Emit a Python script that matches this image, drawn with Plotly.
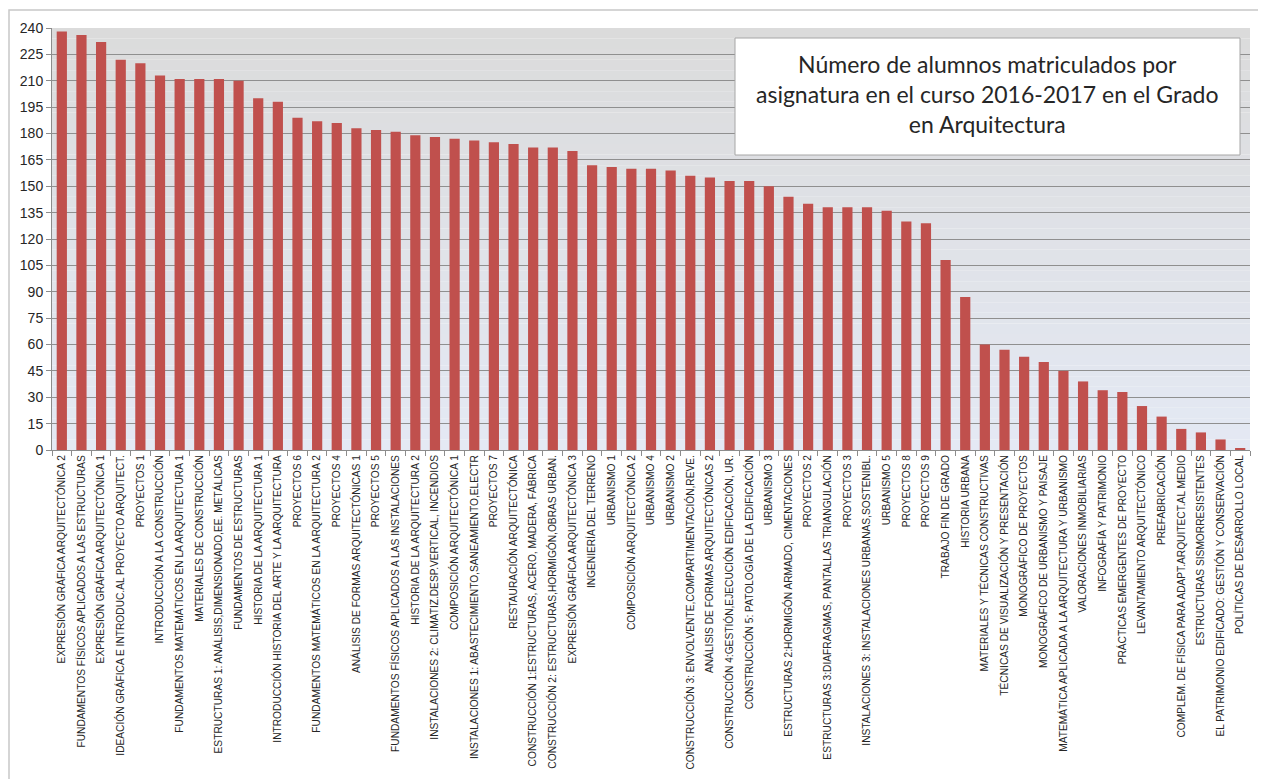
import plotly.graph_objects as go

subjects = [
    "EXPRESIÓN GRÁFICA ARQUITECTÓNICA 2",
    "FUNDAMENTOS FÍSICOS APLICADOS A LAS ESTRUCTURAS",
    "EXPRESIÓN GRÁFICA ARQUITECTÓNICA 1",
    "IDEACIÓN GRÁFICA E INTRODUC.AL PROYECTO ARQUITECT.",
    "PROYECTOS 1",
    "INTRODUCCIÓN A LA CONSTRUCCIÓN",
    "FUNDAMENTOS MATEMÁTICOS EN LA ARQUITECTURA 1",
    "MATERIALES DE CONSTRUCCIÓN",
    "ESTRUCTURAS 1: ANÁLISIS,DIMENSIONADO,EE. METÁLICAS",
    "FUNDAMENTOS DE ESTRUCTURAS",
    "HISTORIA DE LA ARQUITECTURA 1",
    "INTRODUCCIÓN HISTORIA DEL ARTE Y LA ARQUITECTURA",
    "PROYECTOS 6",
    "FUNDAMENTOS MATEMÁTICOS EN LA ARQUITECTURA 2",
    "PROYECTOS 4",
    "ANÁLISIS DE FORMAS ARQUITECTÓNICAS 1",
    "PROYECTOS 5",
    "FUNDAMENTOS FÍSICOS APLICADOS A LAS INSTALACIONES",
    "HISTORIA DE LA ARQUITECTURA 2",
    "INSTALACIONES 2: CLIMATIZ.DESP.VERTICAL, INCENDIOS",
    "COMPOSICIÓN ARQUITECTÓNICA 1",
    "INSTALACIONES 1: ABASTECIMIENTO,SANEAMIENTO,ELECTR",
    "PROYECTOS 7",
    "RESTAURACIÓN ARQUITECTÓNICA",
    "CONSTRUCCIÓN 1:ESTRUCTURAS, ACERO, MADERA, FÁBRICA",
    "CONSTRUCCIÓN 2: ESTRUCTURAS,HORMIGÓN,OBRAS URBAN.",
    "EXPRESIÓN GRÁFICA ARQUITECTÓNICA 3",
    "INGENIERÍA DEL TERRENO",
    "URBANISMO 1",
    "COMPOSICIÓN ARQUITECTÓNICA 2",
    "URBANISMO 4",
    "URBANISMO 2",
    "CONSTRUCCIÓN 3: ENVOLVENTE,COMPARTIMENTACIÓN,REVE.",
    "ANÁLISIS DE FORMAS ARQUITECTÓNICAS 2",
    "CONSTRUCCIÓN 4:GESTIÓN,EJECUCIÓN EDIFICACIÓN, UR.",
    "CONSTRUCCIÓN 5: PATOLOGÍA DE LA EDIFICACIÓN",
    "URBANISMO 3",
    "ESTRUCTURAS 2:HORMIGÓN ARMADO, CIMENTACIONES",
    "PROYECTOS 2",
    "ESTRUCTURAS 3:DIAFRAGMAS, PANTALLAS TRIANGULACIÓN",
    "PROYECTOS 3",
    "INSTALACIONES 3: INSTALACIONES URBANAS,SOSTENIBL.",
    "URBANISMO 5",
    "PROYECTOS 8",
    "PROYECTOS 9",
    "TRABAJO FIN DE GRADO",
    "HISTORIA URBANA",
    "MATERIALES Y TÉCNICAS CONSTRUCTIVAS",
    "TÉCNICAS DE VISUALIZACIÓN Y PRESENTACIÓN",
    "MONOGRÁFICO DE PROYECTOS",
    "MONOGRÁFICO DE URBANISMO Y PAISAJE",
    "MATEMÁTICA APLICADA A LA ARQUITECTURA Y URBANISMO",
    "VALORACIONES INMOBILIARIAS",
    "INFOGRAFÍA Y PATRIMONIO",
    "PRÁCTICAS EMERGENTES DE PROYECTO",
    "LEVANTAMIENTO ARQUITECTÓNICO",
    "PREFABRICACIÓN",
    "COMPLEM. DE FÍSICA PARA ADAPT.ARQUITECT.AL MEDIO",
    "ESTRUCTURAS SISMORRESISTENTES",
    "EL PATRIMONIO EDIFICADO: GESTIÓN Y CONSERVACIÓN",
    "POLÍTICAS DE DESARROLLO LOCAL",
]

students = [238, 236, 232, 222, 220, 213, 211, 211, 211, 210,
            200, 198, 189, 187, 186, 183, 182, 181, 179, 178,
            177, 176, 175, 174, 172, 172, 170, 162, 161, 160,
            160, 159, 156, 155, 153, 153, 150, 144, 140, 138,
            138, 138, 136, 130, 129, 108, 87, 60, 57, 53,
            50, 45, 39, 34, 33, 25, 19, 12, 10, 6, 1]

y_ticks = list(range(0, 241, 15))

title_text = ("Número de alumnos matriculados por<br>"
              "asignatura en el curso 2016-2017 en el Grado<br>"
              "en Arquitectura")

# page offset (body margin) compensation: figure placed at (8, 8) on screen
OFF = 8
W, H = 1250, 771
PL, PR, PT, PB = 52 - OFF, 1250 - OFF, 28 - OFF, 450 - OFF  # plot area in figure px
PW, PH = PR - PL, PB - PT


def px(xs):
    return (xs - OFF - PL) / PW


def py(ys):
    return (PB - (ys - OFF)) / PH


fig = go.Figure()
fig.add_trace(go.Bar(
    x=subjects, y=students,
    marker=dict(color="#c0504d", line=dict(width=0)),
    showlegend=False,
))

shapes = []
n = 40
bottom = (228, 233, 244)
top = (219, 219, 219)
for i in range(n):
    t = (i + 0.5) / n
    c = tuple(int(round(bottom[k] + (top[k] - bottom[k]) * t)) for k in range(3))
    shapes.append(dict(type="rect", xref="x domain", yref="y domain",
                       x0=0, x1=1, y0=i / n, y1=(i + 1) / n,
                       fillcolor="rgb(%d,%d,%d)" % c, line=dict(width=0),
                       layer="below"))
# outer chart frame
shapes.append(dict(type="rect", xref="paper", yref="paper",
                   x0=px(9), x1=px(1262), y0=py(800), y1=py(10),
                   line=dict(color="#c8c8c8", width=1.5), layer="below"))
# title box
shapes.append(dict(type="rect", xref="paper", yref="paper",
                   x0=px(735), x1=px(1240), y0=py(155), y1=py(38),
                   fillcolor="white", line=dict(color="#a6a6a6", width=1),
                   layer="above"))
fig.update_layout(shapes=shapes)

fig.add_annotation(
    text=title_text, xref="paper", yref="paper",
    x=px((735 + 1240) / 2), y=py(94),
    xanchor="center", yanchor="middle", showarrow=False, align="center",
    font=dict(family="Lato, Open Sans, sans-serif", size=23, color="#262626"),
)

tick_font = dict(family="Liberation Sans Narrow, Arial Narrow, Liberation Sans, Arial, sans-serif",
                 color="#262626")

fig.update_layout(
    width=W, height=H,
    margin=dict(l=PL, r=W - PR, t=PT, b=H - PB),
    paper_bgcolor="white",
    plot_bgcolor="rgba(0,0,0,0)",
    bargap=0.48,
    xaxis=dict(
        type="category",
        tickangle=-90,
        tickfont=dict(size=10.2, **tick_font),
        ticks="outside", ticklen=5, tickcolor="#8c8c8c",
        tickson="boundaries",
        showline=True, linecolor="#8c8c8c", linewidth=1,
        showgrid=False,
        range=[-0.5, len(subjects) - 0.5],
        automargin=False,
    ),
    yaxis=dict(
        range=[0, 240],
        tickvals=y_ticks,
        tickfont=dict(size=14, family="Liberation Sans, Arial, sans-serif", color="#262626"),
        ticks="outside", ticklen=5, tickcolor="#8c8c8c",
        showline=True, linecolor="#8c8c8c", linewidth=1,
        showgrid=True, gridcolor="#8f8f8f", gridwidth=1,
        zeroline=False,
        automargin=False,
    ),
)

fig.write_html("out.html")
